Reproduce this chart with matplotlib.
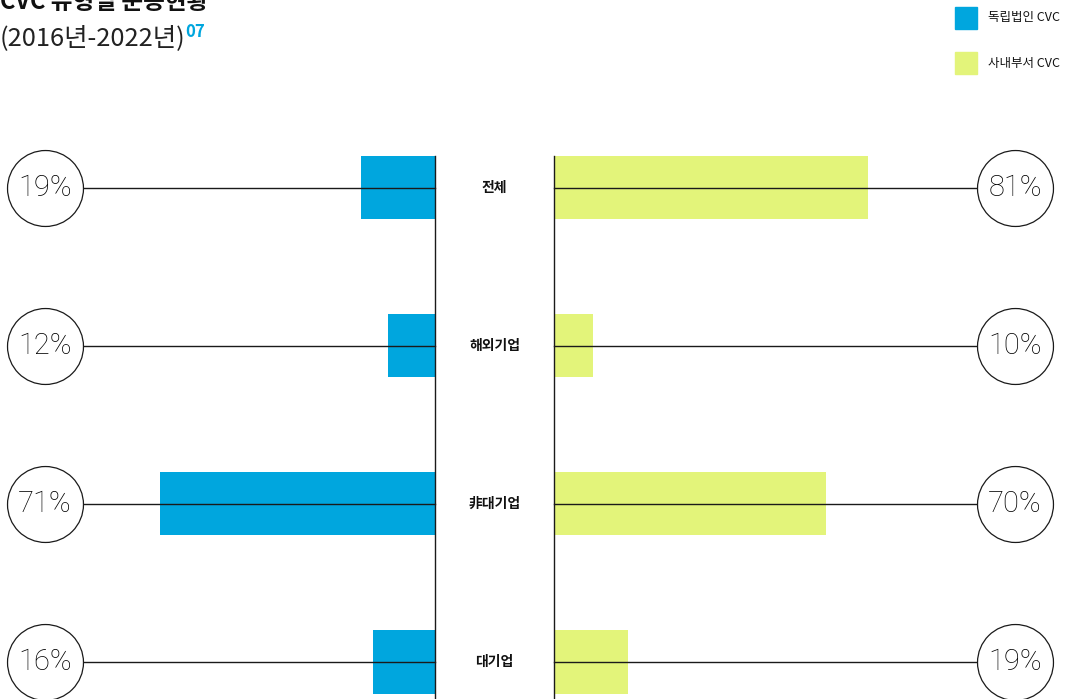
"""CVC 유형별 운용현황 (2016-2022) butterfly bar chart."""

import matplotlib.pyplot as plt
from matplotlib.patches import Rectangle

plt.rcParams["font.family"] = ["Noto Sans CJK KR", "DejaVu Sans"]

categories = ["전체", "해외기업", "非대기업", "대기업"]
independent = [19, 12, 71, 16]   # 독립법인 CVC
inhouse = [81, 10, 70, 19]       # 사내부서 CVC
series_names = ["독립법인 CVC", "사내부서 CVC"]

BLUE = "#00a6de"
YELLOW = "#e3f47a"
LINE = "#1a1a1a"

W, H = 1070, 699
PX_PER_PCT = 3.88

fig = plt.figure(figsize=(W / 100, H / 100), dpi=100)

top_frac = (H - 156) / H
ylim = ((H - 188) / 158, -0.2)
rows = list(range(len(categories)))

ax_l = fig.add_axes([0, 0, 435 / W, top_frac])
ax_r = fig.add_axes([554 / W, 0, (W - 554) / W, top_frac])

ax_l.set_xlim(435 / PX_PER_PCT, 0)
ax_r.set_xlim(0, (W - 554) / PX_PER_PCT)

ax_l.barh(rows, independent, height=0.4, color=BLUE, zorder=1)
ax_r.barh(rows, inhouse, height=0.4, color=YELLOW, zorder=1)

circ_l = (435 - 45) / PX_PER_PCT
circ_r = (1015 - 554) / PX_PER_PCT
edge_l = (435 - 83) / PX_PER_PCT
edge_r = (977 - 554) / PX_PER_PCT

for i in rows:
    ax_l.plot([0, edge_l], [i, i], color=LINE, lw=1.0, zorder=2, clip_on=False)
    ax_r.plot([0, edge_r], [i, i], color=LINE, lw=1.0, zorder=2, clip_on=False)

ax_l.scatter([circ_l] * 4, rows, s=2990, facecolor="white", edgecolor=LINE,
             linewidth=0.9, zorder=3, clip_on=False)
ax_r.scatter([circ_r] * 4, rows, s=2990, facecolor="white", edgecolor=LINE,
             linewidth=0.9, zorder=3, clip_on=False)

pct_font = dict(family=["Roboto", "DejaVu Sans"], fontweight="light",
                fontsize=21, color="black", ha="center", va="center", zorder=4)
for i, (a, b) in enumerate(zip(independent, inhouse)):
    ax_l.text(circ_l, i, f"{a}%", **pct_font)
    ax_r.text(circ_r, i, f"{b}%", **pct_font)

for ax in (ax_l, ax_r):
    ax.set_ylim(*ylim)
    ax.set_xticks([])
    ax.set_yticks([])
    for s in ax.spines.values():
        s.set_visible(False)
    ax.patch.set_alpha(0)

ax_l.spines["right"].set_visible(True)
ax_r.spines["left"].set_visible(True)
for s in (ax_l.spines["right"], ax_r.spines["left"]):
    s.set_color(LINE)
    s.set_linewidth(1.0)

# category labels in the gap
for i, cat in enumerate(categories):
    y = 1 - (188 + 158 * i) / H
    fig.text(494.5 / W, y, cat, ha="center", va="center", fontsize=10,
             fontweight="bold", color="#111111")

# title
fig.text(0, 1 - 9 / H, "CVC 유형별 운용현황", ha="left", va="baseline",
         fontsize=17, fontweight="bold", color="#111111")
fig.text(0, 1 - 45 / H, "(2016년-2022년)", ha="left", va="baseline",
         fontsize=18.3, fontweight="light", color="#222222")
fig.text(185 / W, 1 - 37 / H, "07", ha="left", va="baseline",
         fontsize=12, fontweight="bold", color=BLUE)

# legend
for k, (name, col) in enumerate(zip(series_names, [BLUE, YELLOW])):
    y0 = 7 + 45 * k
    fig.add_artist(Rectangle((955 / W, 1 - (y0 + 22) / H), 22 / W, 22 / H,
                             transform=fig.transFigure, color=col))
    fig.text(988 / W, 1 - (y0 + 11) / H, name, ha="left", va="center",
             fontsize=9, fontweight="medium", color="#111111")

fig.savefig("out.png", dpi=100)
